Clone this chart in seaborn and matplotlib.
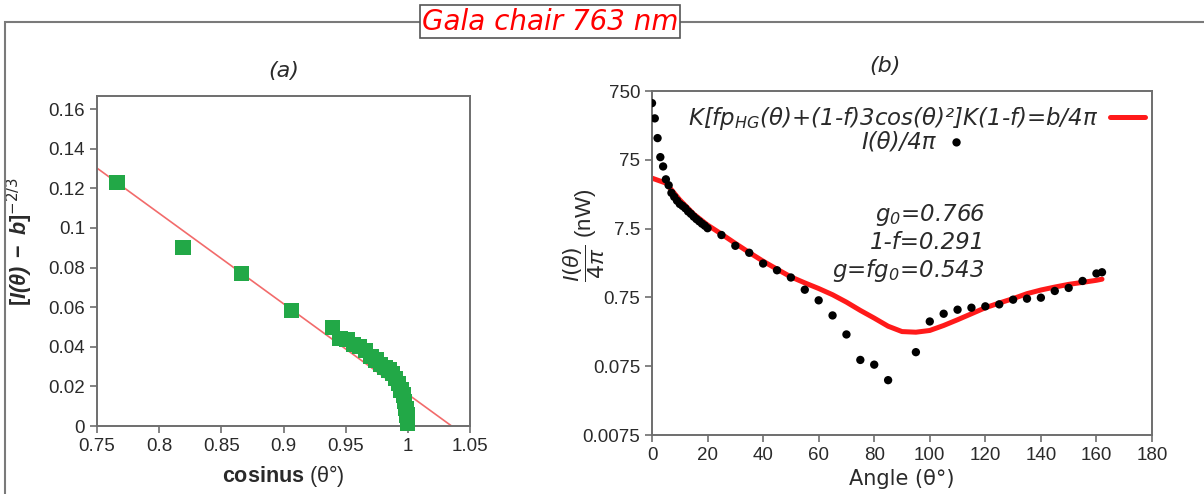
import numpy as np
import pandas as pd
import seaborn as sns
import matplotlib.pyplot as plt
from matplotlib.patches import Rectangle
from matplotlib.ticker import FixedLocator, FuncFormatter, NullLocator

# ---- panel (a): linearised intensity vs cos(theta)
cos_theta = [0.766, 0.8192, 0.866, 0.9063, 0.9397, 0.9455, 0.9511, 0.9563, 0.9613,
             0.9659, 0.9703, 0.9744, 0.9781, 0.9816, 0.9848, 0.9877, 0.9903, 0.9925,
             0.9945, 0.9962, 0.9976, 0.9986, 0.9994, 0.9998, 1.0]
lin_term = [0.1229, 0.0903, 0.0768, 0.0584, 0.0497, 0.0443, 0.0435, 0.041, 0.040,
            0.038, 0.035, 0.0333, 0.031, 0.0296, 0.0283, 0.0266, 0.0241, 0.0216,
            0.0182, 0.0157, 0.0123, 0.0089, 0.0056, 0.003, 0.0013]
fit_cos = [0.75, 1.0352]
fit_lin = [0.1302, 0.0]

# ---- panel (b): phase function vs angle
angle_pts = [0, 1, 2, 3, 4, 5, 6, 7, 8, 9, 10, 11, 12, 13, 14, 15, 16, 17, 18, 19, 20,
             25, 30, 35, 40, 45, 50, 55, 60, 65, 70, 75, 80, 85, 95, 100, 105, 110,
             115, 120, 125, 130, 135, 140, 145, 150, 155, 160, 162]
intensity_pts = [500, 300, 155, 82, 60, 39, 32, 24.8, 21.7, 19.1, 17.1, 16.0, 14.8,
                 13.3, 12.3, 11.2, 10.3, 9.55, 8.84, 8.27, 7.6,
                 6.05, 4.22, 3.34, 2.33, 1.86, 1.46, 0.97, 0.68, 0.41, 0.217, 0.0925,
                 0.079, 0.047, 0.12, 0.335, 0.434, 0.497, 0.531, 0.556, 0.594, 0.695,
                 0.719, 0.743, 0.93, 1.03, 1.30, 1.67, 1.74]
angle_fit = [0, 5, 10, 15, 20, 25, 30, 35, 40, 45, 50, 55, 60, 65, 70, 75, 80, 85, 90,
             95, 100, 105, 110, 115, 120, 125, 130, 135, 140, 145, 150, 155, 160, 162]
intensity_fit = [40.6, 34.4, 19.6, 12.2, 8.45, 6.25, 4.57, 3.37, 2.52, 1.93, 1.49, 1.22,
                 1.01, 0.82, 0.64, 0.485, 0.375, 0.286, 0.239, 0.234, 0.248, 0.293,
                 0.355, 0.434, 0.531, 0.621, 0.72, 0.85, 0.96, 1.06, 1.16, 1.24, 1.33, 1.38]

y_ticks_b = [0.0075, 0.075, 0.75, 7.5, 75, 750]

fit_label = 'K[fp$_{\\mathregular{HG}}$(θ)+(1-f)3cos(θ)²]K(1-f)=b/4π'
dot_label = 'I(θ)/4π'
params_text = 'g$_{\\mathregular{0}}$=0.766\n1-f=0.291\ng=fg$_{\\mathregular{0}}$=0.543'

sns.set_style("ticks")
plt.rcParams['font.family'] = ['Liberation Sans', 'DejaVu Sans']
plt.rcParams['mathtext.fontset'] = 'custom'
plt.rcParams['mathtext.rm'] = 'DejaVu Sans'
plt.rcParams['mathtext.it'] = 'Liberation Sans:italic'
plt.rcParams['mathtext.bf'] = 'Liberation Sans:bold'
plt.rcParams['mathtext.bfit'] = 'Liberation Sans:bold:italic'

W, H = 1204, 494
fig = plt.figure(figsize=(W / 100, H / 100), dpi=100)

def px_axes(l, t, r, b):
    return fig.add_axes([l / W, 1 - b / H, (r - l) / W, (b - t) / H])

ax_a = px_axes(97, 96, 470, 426)
ax_b = px_axes(652, 91, 1152, 435)

spine_col = '#6e6e6e'
txt_col = '#2a2a2a'
wide = 'DejaVu Sans'
for ax in (ax_a, ax_b):
    for s in ax.spines.values():
        s.set_color(spine_col)
        s.set_linewidth(1.4)
    ax.tick_params(axis='both', direction='out', length=5, width=1.2, color=spine_col,
                   labelsize=13.5, labelcolor=txt_col, top=False, right=False)

# panel (a)
sns.lineplot(x=fit_cos, y=fit_lin, ax=ax_a, color='#f26b6b', lw=1.2, sort=False,
             estimator=None)
sns.scatterplot(x=cos_theta, y=lin_term, ax=ax_a, marker='s', s=120, color='#22a847',
                edgecolor='none', zorder=3, clip_on=False)
ax_a.set_xlim(0.75, 1.05)
ax_a.set_ylim(0, 0.1666)
ax_a.xaxis.set_major_locator(FixedLocator(np.arange(0.75, 1.051, 0.05)))
ax_a.yaxis.set_major_locator(FixedLocator(np.arange(0, 0.161, 0.02)))
ax_a.xaxis.set_major_formatter(FuncFormatter(lambda v, p: f'{round(v, 3):g}'))
ax_a.yaxis.set_major_formatter(FuncFormatter(lambda v, p: f'{round(v, 3):g}'))
ax_a.set_xlabel(r'$\mathbf{cosinus}$ (θ°)', fontsize=15.5, color=txt_col, labelpad=6)
ax_a.set_ylabel(r'$\mathbf{[}\mathbfit{I(\theta)}\mathbf{\ -\ }\mathbfit{b}\mathbf{]}^{-2/3}$',
                fontsize=15.5, color=txt_col)
ax_a.yaxis.set_label_coords(-0.165, 0.56)
ax_a.text(0.5, 1.045, '(a)', transform=ax_a.transAxes, ha='center', va='bottom',
          fontstyle='italic', fontsize=16, color=txt_col, family=wide)

# panel (b)
sns.lineplot(x=angle_fit, y=intensity_fit, ax=ax_b, color='#ff1a1a', lw=3.6, sort=False,
             estimator=None)
sns.scatterplot(x=angle_pts, y=intensity_pts, ax=ax_b, color='black', s=36,
                edgecolor='none', zorder=3, legend=False)
ax_b.set_yscale('log')
ax_b.set_xlim(0, 180)
ax_b.set_ylim(0.0075, 750)
ax_b.xaxis.set_major_locator(FixedLocator(range(0, 181, 20)))
ax_b.yaxis.set_major_locator(FixedLocator(y_ticks_b))
ax_b.yaxis.set_minor_locator(NullLocator())
ax_b.yaxis.set_major_formatter(FuncFormatter(lambda v, p: f'{v:g}'))
ax_b.set_xlabel('Angle (θ°)', fontsize=15, color=txt_col, labelpad=4, family=wide)
ax_b.set_ylabel(r'$\dfrac{\mathit{I(\theta)}}{\mathit{4\pi}}$ (nW)', fontsize=16,
                color=txt_col)
ax_b.yaxis.set_label_coords(-0.09, 0.58)
ax_b.text(0.466, 1.045, '(b)', transform=ax_b.transAxes, ha='center', va='bottom',
          fontstyle='italic', fontsize=16, color=txt_col, family=wide)

line_h = ax_b.lines[0]
dot_h = ax_b.collections[0]
leg_font = {'family': wide, 'style': 'italic', 'size': 16.5}
leg1 = ax_b.legend([line_h], [fit_label], loc='center right',
                   bbox_to_anchor=(0.985, 0.92), frameon=False, markerfirst=False,
                   prop=leg_font, handlelength=1.5, handletextpad=0.5, borderpad=0,
                   borderaxespad=0, labelcolor=txt_col)
ax_b.add_artist(leg1)
ax_b.legend([dot_h], [dot_label], loc='center right',
            bbox_to_anchor=(0.632, 0.852), frameon=False, markerfirst=False,
            prop=leg_font, handlelength=1.0, handletextpad=0.4, borderpad=0,
            borderaxespad=0, labelcolor=txt_col)

ax_b.text(0.666, 0.558, params_text, transform=ax_b.transAxes, ha='right', va='center',
          multialignment='right', fontsize=16.5, color=txt_col, linespacing=1.15,
          family=wide, fontstyle='italic')

# outer frame and title box
fig.add_artist(Rectangle((5 / W, -0.1), 1.2, 1.1 - 22 / H, transform=fig.transFigure,
                         fill=False, ec='#7a7a7a', lw=1.5))
fig.text(550 / W, 1 - 21.5 / H, 'Gala chair 763 nm', color='red', fontstyle='italic',
         fontsize=20, ha='center', va='center', family=wide,
         bbox=dict(boxstyle='square,pad=0.08', fc='white', ec='#555555', lw=1.2))

fig.savefig('out.png', dpi=100)
